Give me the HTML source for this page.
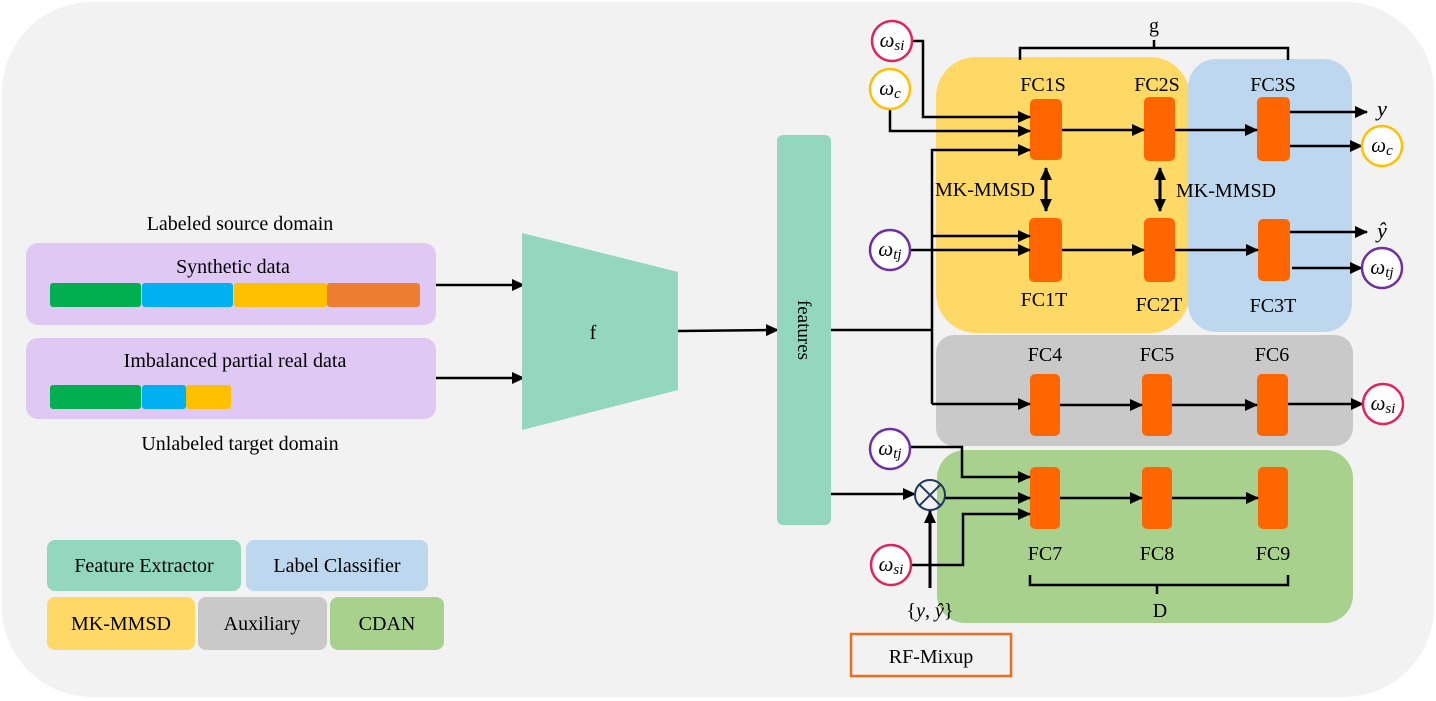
<!DOCTYPE html>
<html><head><meta charset="utf-8"><style>
body{margin:0;background:#fff;}
svg{display:block;}
text{font-family:"Liberation Serif",serif;fill:#000;}
</style></head><body>
<svg width="1436" height="701" viewBox="0 0 1436 701" xmlns="http://www.w3.org/2000/svg">
<defs>
<marker id="a" markerWidth="13" markerHeight="12" refX="12" refY="6" orient="auto" markerUnits="userSpaceOnUse"><path d="M0,0 L13,6 L0,12 z" fill="#000"/></marker>
<marker id="b" markerWidth="13" markerHeight="12" refX="1" refY="6" orient="auto" markerUnits="userSpaceOnUse"><path d="M13,0 L0,6 L13,12 z" fill="#000"/></marker>
</defs>
<rect x="2" y="2" width="1432" height="695" rx="90" fill="#f2f2f2"/>
<text x="240" y="230" font-size="20" text-anchor="middle">Labeled source domain</text>
<rect x="26" y="243" width="410" height="82" rx="12" fill="#dfc8f4"/>
<text x="233" y="273" font-size="20" text-anchor="middle">Synthetic data</text>
<rect x="50" y="283" width="91" height="24" rx="3" fill="#00b050"/>
<rect x="142" y="283" width="91" height="24" rx="3" fill="#00b0f0"/>
<rect x="234" y="283" width="93" height="24" rx="3" fill="#ffc000"/>
<rect x="327" y="283" width="93" height="24" rx="3" fill="#ed7d31"/>
<rect x="26" y="338" width="410" height="81" rx="12" fill="#dfc8f4"/>
<text x="235" y="367" font-size="20" text-anchor="middle">Imbalanced partial real data</text>
<rect x="50" y="385" width="91" height="24" rx="3" fill="#00b050"/>
<rect x="142" y="385" width="44" height="24" rx="3" fill="#00b0f0"/>
<rect x="186" y="385" width="45" height="24" rx="3" fill="#ffc000"/>
<text x="240" y="450" font-size="20" text-anchor="middle">Unlabeled target domain</text>
<line x1="436" y1="285" x2="524" y2="285" stroke="#000" stroke-width="2.5" marker-end="url(#a)"/>
<line x1="436" y1="378" x2="524" y2="378" stroke="#000" stroke-width="2.5" marker-end="url(#a)"/>
<polygon points="522,233 678,272 678,390 522,430" fill="#93d7bf"/>
<text x="593" y="339" font-size="20" text-anchor="middle">f</text>
<line x1="678" y1="331" x2="778" y2="330" stroke="#000" stroke-width="2.5" marker-end="url(#a)"/>
<rect x="777" y="135" width="54" height="390" rx="6" fill="#93d7bf"/>
<text x="804" y="330" font-size="19" text-anchor="middle" transform="rotate(90 804 330)" dy="6">features</text>
<rect x="47" y="540" width="194" height="51" rx="8" fill="#93d7bf"/><text x="144" y="572" font-size="20" text-anchor="middle">Feature Extractor</text>
<rect x="246" y="540" width="182" height="51" rx="8" fill="#bdd7ee"/><text x="337" y="572" font-size="20" text-anchor="middle">Label Classifier</text>
<rect x="47" y="597" width="148" height="53" rx="8" fill="#ffd966"/><text x="121" y="630" font-size="20" text-anchor="middle">MK-MMSD</text>
<rect x="198" y="597" width="129" height="53" rx="8" fill="#c9c9c9"/><text x="262" y="630" font-size="20" text-anchor="middle">Auxiliary</text>
<rect x="330" y="597" width="114" height="53" rx="8" fill="#a9d18e"/><text x="387" y="630" font-size="20" text-anchor="middle">CDAN</text>
<rect x="936" y="57" width="254" height="276" rx="40" fill="#ffd966"/>
<rect x="1188" y="59" width="164" height="273" rx="28" fill="#bdd7ee"/>
<rect x="936" y="335" width="417" height="111" rx="18" fill="#c9c9c9"/>
<rect x="937" y="450" width="416" height="173" rx="28" fill="#a9d18e"/>
<path d="M1020,60 V48 H1288 V60 M1154,48 V40" fill="none" stroke="#000" stroke-width="2.5"/>
<text x="1154" y="32" font-size="20" text-anchor="middle">g</text>
<path d="M1030,575 V585 H1288 V575 M1157,585 V594" fill="none" stroke="#000" stroke-width="2.5"/>
<text x="1160" y="617" font-size="20" text-anchor="middle">D</text>
<g fill="#ff6600">
<rect x="1030" y="99" width="32" height="61" rx="5"/>
<rect x="1144" y="97" width="31" height="64" rx="5"/>
<rect x="1257" y="97" width="33" height="64" rx="5"/>
<rect x="1029" y="218" width="33" height="64" rx="5"/>
<rect x="1144" y="218" width="31" height="64" rx="5"/>
<rect x="1258" y="219" width="32" height="62" rx="5"/>
<rect x="1030" y="374" width="30" height="62" rx="5"/>
<rect x="1142" y="374" width="30" height="62" rx="5"/>
<rect x="1257" y="374" width="31" height="62" rx="5"/>
<rect x="1030" y="467" width="30" height="62" rx="5"/>
<rect x="1142" y="467" width="30" height="62" rx="5"/>
<rect x="1258" y="467" width="30" height="62" rx="5"/>
</g>
<g font-size="20" text-anchor="middle">
<text x="1043" y="91">FC1S</text><text x="1157" y="91">FC2S</text><text x="1273" y="91">FC3S</text>
<text x="1044" y="306">FC1T</text><text x="1159" y="311">FC2T</text><text x="1273" y="312">FC3T</text>
<text x="1045" y="361">FC4</text><text x="1157" y="361">FC5</text><text x="1272" y="361">FC6</text>
<text x="1045" y="560">FC7</text><text x="1157" y="560">FC8</text><text x="1273" y="560">FC9</text>
<text x="985" y="196">MK-MMSD</text><text x="1226" y="197">MK-MMSD</text>
</g>
<g stroke="#000" stroke-width="2.5" fill="none">
<path d="M831,330 H932"/>
<path d="M932,404 V150 H1030" marker-end="url(#a)"/>
<path d="M932,404 H1030" marker-end="url(#a)"/>
<path d="M932,236 H1030" marker-end="url(#a)"/>
<path d="M910,250 H1030" marker-end="url(#a)"/>
<path d="M912,41 H923 V117 H1030" marker-end="url(#a)"/>
<path d="M890,109 V131 H1030" marker-end="url(#a)"/>
<path d="M1062,130 H1144" marker-end="url(#a)"/>
<path d="M1175,130 H1257" marker-end="url(#a)"/>
<path d="M1290,112 H1367" marker-end="url(#a)"/>
<path d="M1290,146 H1362" marker-end="url(#a)"/>
<path d="M1062,250 H1144" marker-end="url(#a)"/>
<path d="M1175,250 H1258" marker-end="url(#a)"/>
<path d="M1290,232 H1367" marker-end="url(#a)"/>
<path d="M1292,268 H1362" marker-end="url(#a)"/>
<path d="M1060,405 H1142" marker-end="url(#a)"/>
<path d="M1172,405 H1257" marker-end="url(#a)"/>
<path d="M1288,404 H1363" marker-end="url(#a)"/>
<path d="M1060,498 H1142" marker-end="url(#a)"/>
<path d="M1172,498 H1258" marker-end="url(#a)"/>
<path d="M831,494 H915" marker-end="url(#a)"/>
<path d="M945,498 H1030" marker-end="url(#a)"/>
<path d="M910,447 H962 V477 H1030" marker-end="url(#a)"/>
<path d="M911,565 H963 V514 H1030" marker-end="url(#a)"/>
<path d="M930,588 V511" marker-end="url(#a)" stroke-width="3"/>
<path d="M1046,168 V211" marker-start="url(#b)" marker-end="url(#a)" stroke-width="3"/>
<path d="M1160,168 V211" marker-start="url(#b)" marker-end="url(#a)" stroke-width="3"/>
</g>
<circle cx="930" cy="495" r="15" fill="none" stroke="#203864" stroke-width="2"/>
<path d="M919.4,484.4 L940.6,505.6 M940.6,484.4 L919.4,505.6" stroke="#203864" stroke-width="2"/>
<text x="930" y="617" font-size="20" text-anchor="middle">{<tspan font-style="italic">y</tspan>, <tspan font-style="italic">ŷ</tspan>}</text>
<g fill="#fff" stroke-width="2.5">
<circle cx="892" cy="41" r="20" stroke="#e0245e"/>
<circle cx="890" cy="89" r="20" stroke="#ffc000"/>
<circle cx="1382" cy="146" r="20" stroke="#ffc000"/>
<circle cx="890" cy="250" r="20" stroke="#7030a0"/>
<circle cx="1382" cy="268" r="20" stroke="#7030a0"/>
<circle cx="1383" cy="404" r="20" stroke="#e0245e"/>
<circle cx="890" cy="449" r="20" stroke="#7030a0"/>
<circle cx="891" cy="565" r="20" stroke="#e0245e"/>
</g>
<g font-size="21" text-anchor="middle" font-style="italic">
<text x="892" y="47">ω<tspan font-size="15" dy="3">si</tspan></text>
<text x="890" y="95">ω<tspan font-size="15" dy="3">c</tspan></text>
<text x="1382" y="152">ω<tspan font-size="15" dy="3">c</tspan></text>
<text x="890" y="256">ω<tspan font-size="15" dy="3">tj</tspan></text>
<text x="1382" y="274">ω<tspan font-size="15" dy="3">tj</tspan></text>
<text x="1383" y="410">ω<tspan font-size="15" dy="3">si</tspan></text>
<text x="890" y="455">ω<tspan font-size="15" dy="3">tj</tspan></text>
<text x="891" y="571">ω<tspan font-size="15" dy="3">si</tspan></text>
<text x="1382" y="116" font-size="22">y</text>
<text x="1382" y="238" font-size="22">ŷ</text>
</g>
<rect x="851" y="634" width="160" height="42" fill="none" stroke="#ed6d1f" stroke-width="2.5"/>
<text x="931" y="663" font-size="20" text-anchor="middle">RF-Mixup</text>
</svg>
</body></html>
